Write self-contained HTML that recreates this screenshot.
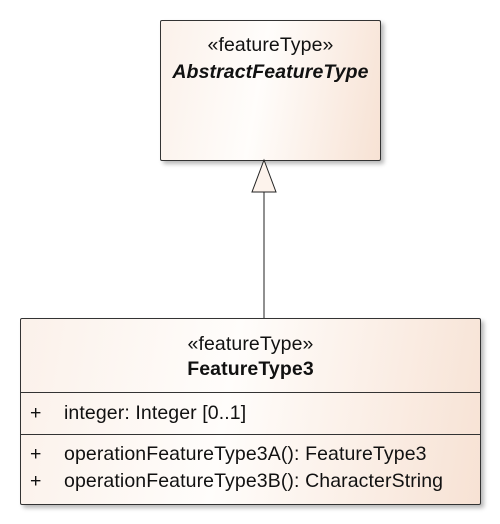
<!DOCTYPE html>
<html><head><meta charset="utf-8"><style>
body{margin:0;width:500px;height:524px;background:#fff;position:relative;overflow:hidden;font-family:"Liberation Sans",Arial,sans-serif;color:#111}
.box{position:absolute;border:1px solid #333;border-radius:2px;background:linear-gradient(100deg,#fbf1ea 0%,#fffdfb 45%,#f7e2d4 100%);box-shadow:3px 3px 4px rgba(0,0,0,0.28)}
.t{position:absolute;left:0;right:0;text-align:center;font-size:19.5px;line-height:22px;letter-spacing:0.1px}
.hr{position:absolute;left:0;right:0;height:1px;background:#333}
.r{position:absolute;font-size:19.5px;line-height:22px;white-space:nowrap;letter-spacing:0.1px}
</style></head><body>
<div class="box" style="left:160px;top:20px;width:219px;height:139px">
  <div class="t" style="top:13px">«featureType»</div>
  <div class="t" style="top:40px;font-weight:bold;font-style:italic">AbstractFeatureType</div>
</div>
<svg style="position:absolute;left:0;top:0" width="500" height="524">
  <line x1="264" y1="192" x2="264" y2="318" stroke="#222" stroke-width="1"/>
  <polygon points="264,160 252,192 276,192" fill="#fdf3ec" stroke="#222" stroke-width="1"/>
</svg>
<div class="box" style="left:20px;top:318px;width:459px;height:185px">
  <div class="t" style="top:14px">«featureType»</div>
  <div class="t" style="top:39px;font-weight:bold">FeatureType3</div>
  <div class="hr" style="top:73px"></div>
  <div class="r" style="left:9px;top:83px">+</div>
  <div class="r" style="left:43px;top:83px">integer: Integer [0..1]</div>
  <div class="hr" style="top:115px"></div>
  <div class="r" style="left:9px;top:124px">+</div>
  <div class="r" style="left:43px;top:124px">operationFeatureType3A(): FeatureType3</div>
  <div class="r" style="left:9px;top:151px">+</div>
  <div class="r" style="left:43px;top:151px">operationFeatureType3B(): CharacterString</div>
</div>
</body></html>
